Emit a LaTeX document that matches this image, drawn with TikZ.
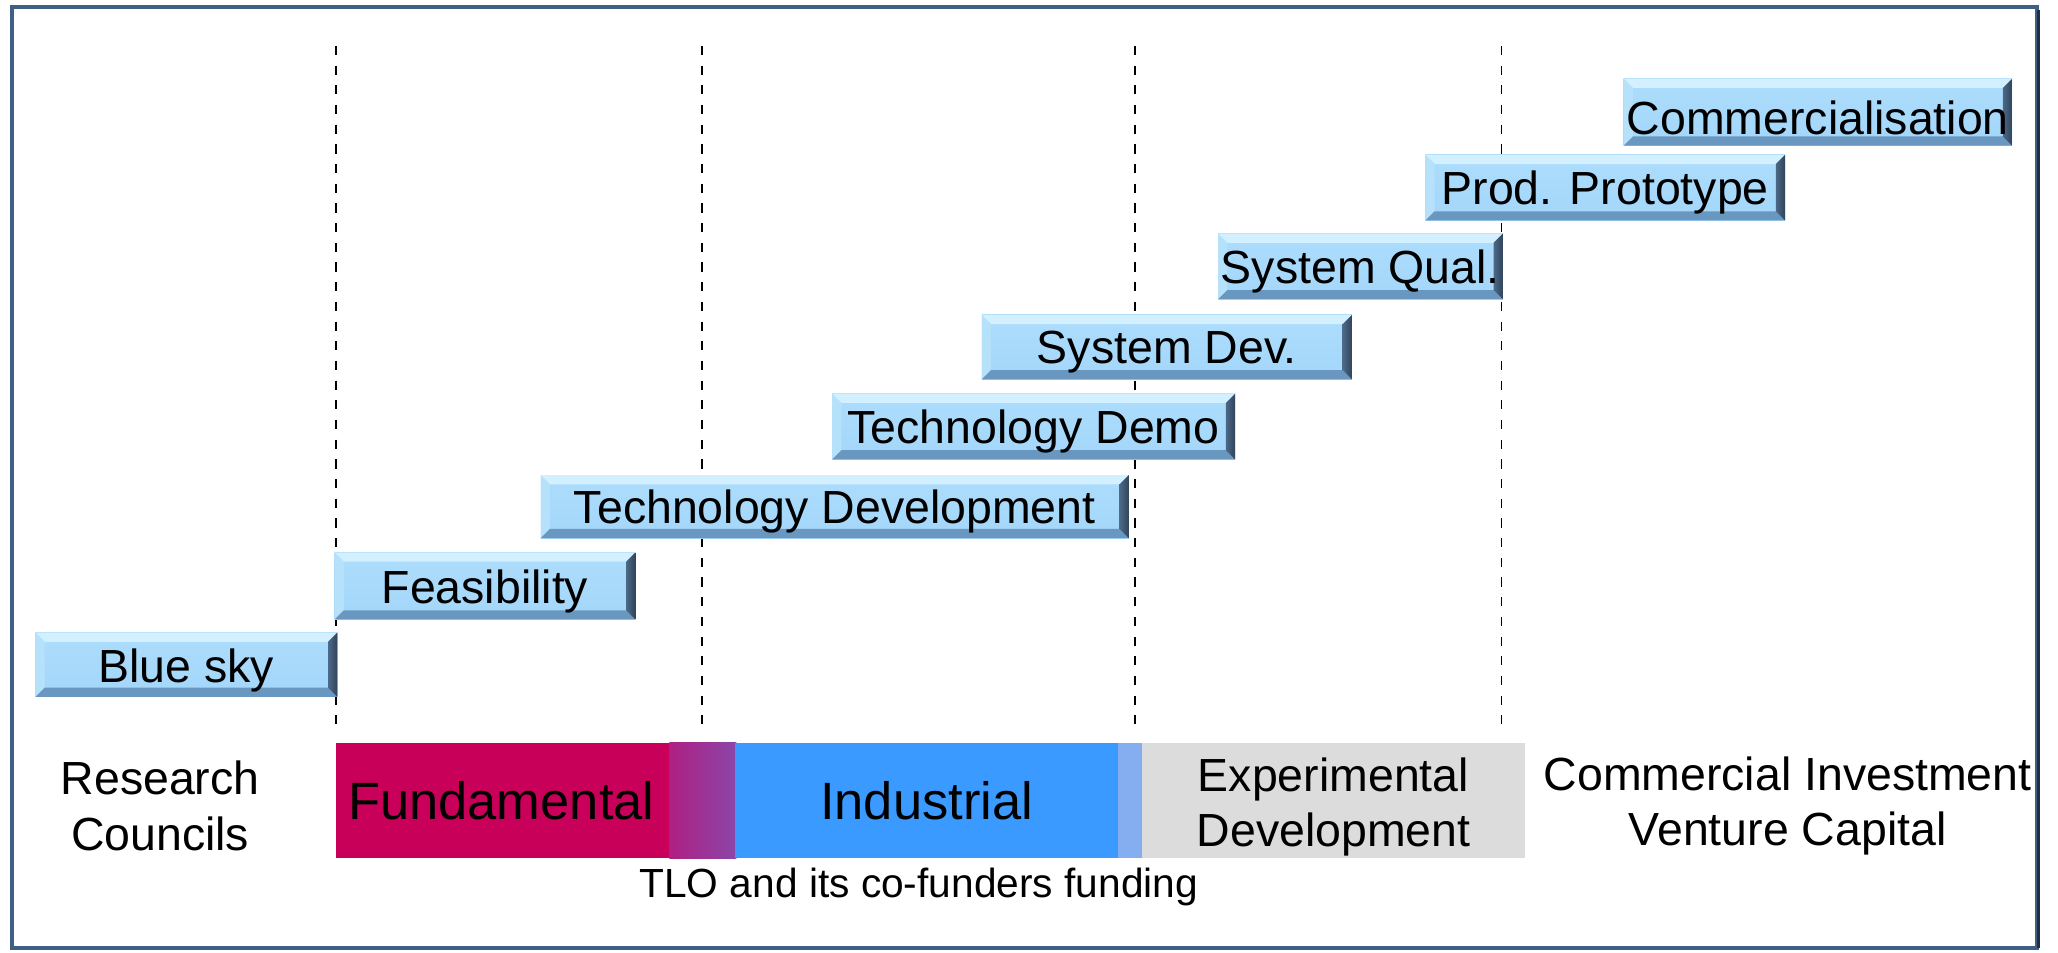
\documentclass[tikz,border=0pt]{standalone}
\usepackage{fontspec}
\setmainfont{Liberation Sans}
\definecolor{frameblue}{HTML}{3F5F86}
\definecolor{framedark}{HTML}{1F2F44}
\definecolor{bvface}{HTML}{A2D6FA}
\definecolor{bvfacetop}{HTML}{AEDDFC}
\definecolor{bvtop}{HTML}{D2F0FF}
\definecolor{bvleft}{HTML}{B6E1FB}
\definecolor{bvbottom}{HTML}{6A97C0}
\definecolor{bvright}{HTML}{3E5570}
\definecolor{fundc}{HTML}{C8005A}
\definecolor{gradA}{HTML}{AE2082}
\definecolor{gradB}{HTML}{8A46A8}
\definecolor{indc}{HTML}{3A9AFF}
\definecolor{stripc}{HTML}{84AEF0}
\definecolor{expc}{HTML}{DCDCDC}
\newcommand{\bw}{7}
\newcommand{\bevbox}[6]{%
  \shade[top color=bvfacetop,bottom color=bvface] (#2,#3) rectangle (#4,#5);
  \fill[bvtop] (#2,#3) -- (#4,#3) -- (#4-\bw,#3+\bw) -- (#2+\bw,#3+\bw) -- cycle;
  \fill[bvleft] (#2,#3) -- (#2+\bw,#3+\bw) -- (#2+\bw,#5-\bw) -- (#2,#5) -- cycle;
  \fill[bvbottom] (#2,#5) -- (#2+\bw,#5-\bw) -- (#4-\bw,#5-\bw) -- (#4,#5) -- cycle;
  \shade[left color=bvright!70!bvbottom,right color=bvright!80!black] (#4,#3) -- (#4-\bw,#3+\bw) -- (#4-\bw,#5-\bw) -- (#4,#5) -- cycle;
  \node[boxtext] (#1) at ({(#2+#4)/2},{(#3+#5)/2+4}) {#6};
}
\tikzset{
  boxtext/.style={inner sep=0pt,font=\fontsize{17.7}{21}\selectfont,text=black},
  lbltext/.style={inner sep=0pt,align=center,font=\fontsize{17.7}{21}\selectfont,text=black},
  bigtext/.style={inner sep=0pt,font=\fontsize{20}{24}\selectfont,text=black},
  smalltext/.style={inner sep=0pt,font=\fontsize{15.5}{18}\selectfont,text=black},
  divider/.style={line width=0.65pt,dash pattern=on 3.5pt off 4pt,black},
}
\begin{document}
\begin{tikzpicture}[x=0.5pt,y=-0.5pt]
\useasboundingbox (0,0) rectangle (1568,726);
\fill[white] (0,0) rectangle (1568,726);
% frame
\draw[frameblue,line width=1.5pt] (9,5) rectangle (1552,722);
\draw[framedark,line width=1.2pt] (1553,8) -- (1553,722);
% dashed dividers
\foreach \n/\x in {a/256,b/535,c/865,d/1144}{
  \coordinate (top\n) at (\x,35);
  \coordinate (bot\n) at (\x,557);
  \draw[divider] (top\n) -- (bot\n);
}
% funding bar
\fill[fundc] (256,566) rectangle (511,654);
\shade[left color=gradA,right color=gradB] (510,566) rectangle (561,654);
\fill[indc] (560,566) rectangle (853,654);
\fill[stripc] (852,566) rectangle (871,654);
\fill[expc] (870,566) rectangle (1162,654);
% stage boxes
\bevbox{bluesky}{27}{482}{257}{531}{Blue sky}
\bevbox{feas}{255}{421}{484}{472}{Feasibility}
\bevbox{techdev}{412}{362}{860}{410}{Technology Development}
\bevbox{techdemo}{634}{300}{941}{350}{Technology Demo}
\bevbox{sysdev}{748}{240}{1030}{289}{System Dev.}
\bevbox{sysqual}{928}{178}{1145}{228}{System Qual.}
\bevbox{prodproto}{1086}{118}{1360}{168}{Prod. Prototype}
\bevbox{commerc}{1237}{60}{1533}{111}{Commercialisation}
% labels
\node[lbltext] (rc) at (122,614) {Research\\Councils};
\node[bigtext] (fund) at (382,610) {Fundamental};
\node[bigtext] (ind) at (706,610) {Industrial};
\node[lbltext] (exp) at (1016,615) {Experimental\\Development};
\node[lbltext] (ci) at (1362,614) {Commercial Investment\\Venture Capital};
\node[smalltext] (tlo) at (700,676) {TLO and its co-funders funding};
\end{tikzpicture}
\end{document}
